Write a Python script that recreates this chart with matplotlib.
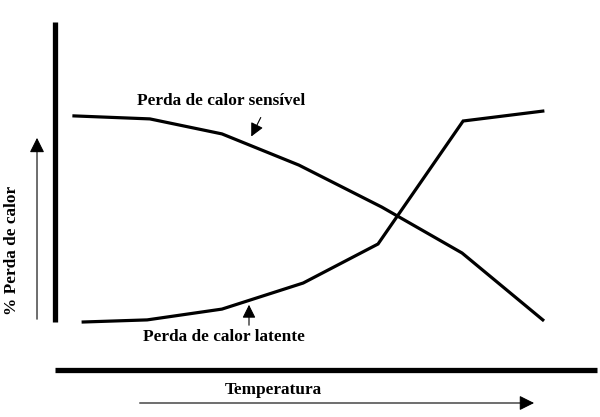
import matplotlib
matplotlib.use("Agg")
import matplotlib.pyplot as plt

# Data (arbitrary units)
temp_sensivel = [3.5, 17.5, 30.8, 45.0, 60.3, 75.1, 90.0]
perda_sensivel = [68.7, 67.7, 62.7, 52.3, 38.3, 23.0, 0.7]
temp_latente = [5.2, 17.0, 30.8, 45.8, 59.6, 75.3, 90.0]
perda_latente = [0.0, 0.7, 4.3, 13.0, 26.0, 67.0, 70.3]

label_sensivel = "Perda de calor sensível"
label_latente = "Perda de calor latente"
xlabel = "Temperatura"
ylabel = "% Perda de calor"

font = dict(family="Liberation Serif", fontweight="bold", fontsize=12.4)

fig = plt.figure(figsize=(6.0, 4.17), dpi=100)
ax = fig.add_axes([55/600, (417-322)/417, (597-55)/600, (322-22)/417])
ax.set_xlim(0, 100)
ax.set_ylim(0, 100)
for s in ["top", "right", "bottom"]:
    ax.spines[s].set_visible(False)
ax.spines["left"].set_linewidth(3.8)
ax.spines["left"].set_capstyle("butt")
ax.set_xticks([])
ax.set_yticks([])
ax.patch.set_alpha(0)

ax.plot(temp_sensivel, perda_sensivel, color="black", lw=2.3, solid_joinstyle="miter", clip_on=False)
ax.plot(temp_latente, perda_latente, color="black", lw=2.3, solid_joinstyle="miter", clip_on=False)

# thick horizontal line
ax.plot([0, 1], [-0.16, -0.16], transform=ax.transAxes, color="black", lw=3.8,
        solid_capstyle="butt", clip_on=False)

# axis arrows
ax.annotate("", xy=(-0.0332, 0.623), xytext=(-0.0332, 0.0), xycoords="axes fraction",
            textcoords="axes fraction",
            arrowprops=dict(arrowstyle="-|>,head_length=0.9,head_width=0.45", color="black", lw=0.8))
ax.annotate("", xy=(0.889, -0.27), xytext=(0.151, -0.27), xycoords="axes fraction",
            textcoords="axes fraction",
            arrowprops=dict(arrowstyle="-|>,head_length=0.9,head_width=0.45", color="black", lw=0.8))

# labels
fig.text(12/600, 1-250/417, ylabel, rotation=90, ha="center", va="center", **font)
fig.text(273/600, 1-390/417, xlabel, ha="center", va="center", **font)
fig.text(137/600, 1-101/417, label_sensivel, ha="left", va="center", **font)
fig.text(143/600, 1-337/417, label_latente, ha="left", va="center", **font)

# label arrows
fig_px = lambda px, py: (px/600, 1-py/417)
ax.annotate("", xy=fig_px(250, 139), xytext=fig_px(262, 115), xycoords="figure fraction",
            textcoords="figure fraction",
            arrowprops=dict(arrowstyle="-|>,head_length=0.8,head_width=0.4", color="black", lw=0.8))
ax.annotate("", xy=fig_px(249, 302), xytext=fig_px(249, 328), xycoords="figure fraction",
            textcoords="figure fraction",
            arrowprops=dict(arrowstyle="-|>,head_length=0.8,head_width=0.4", color="black", lw=0.8))

fig.savefig("out.png", dpi=100)
